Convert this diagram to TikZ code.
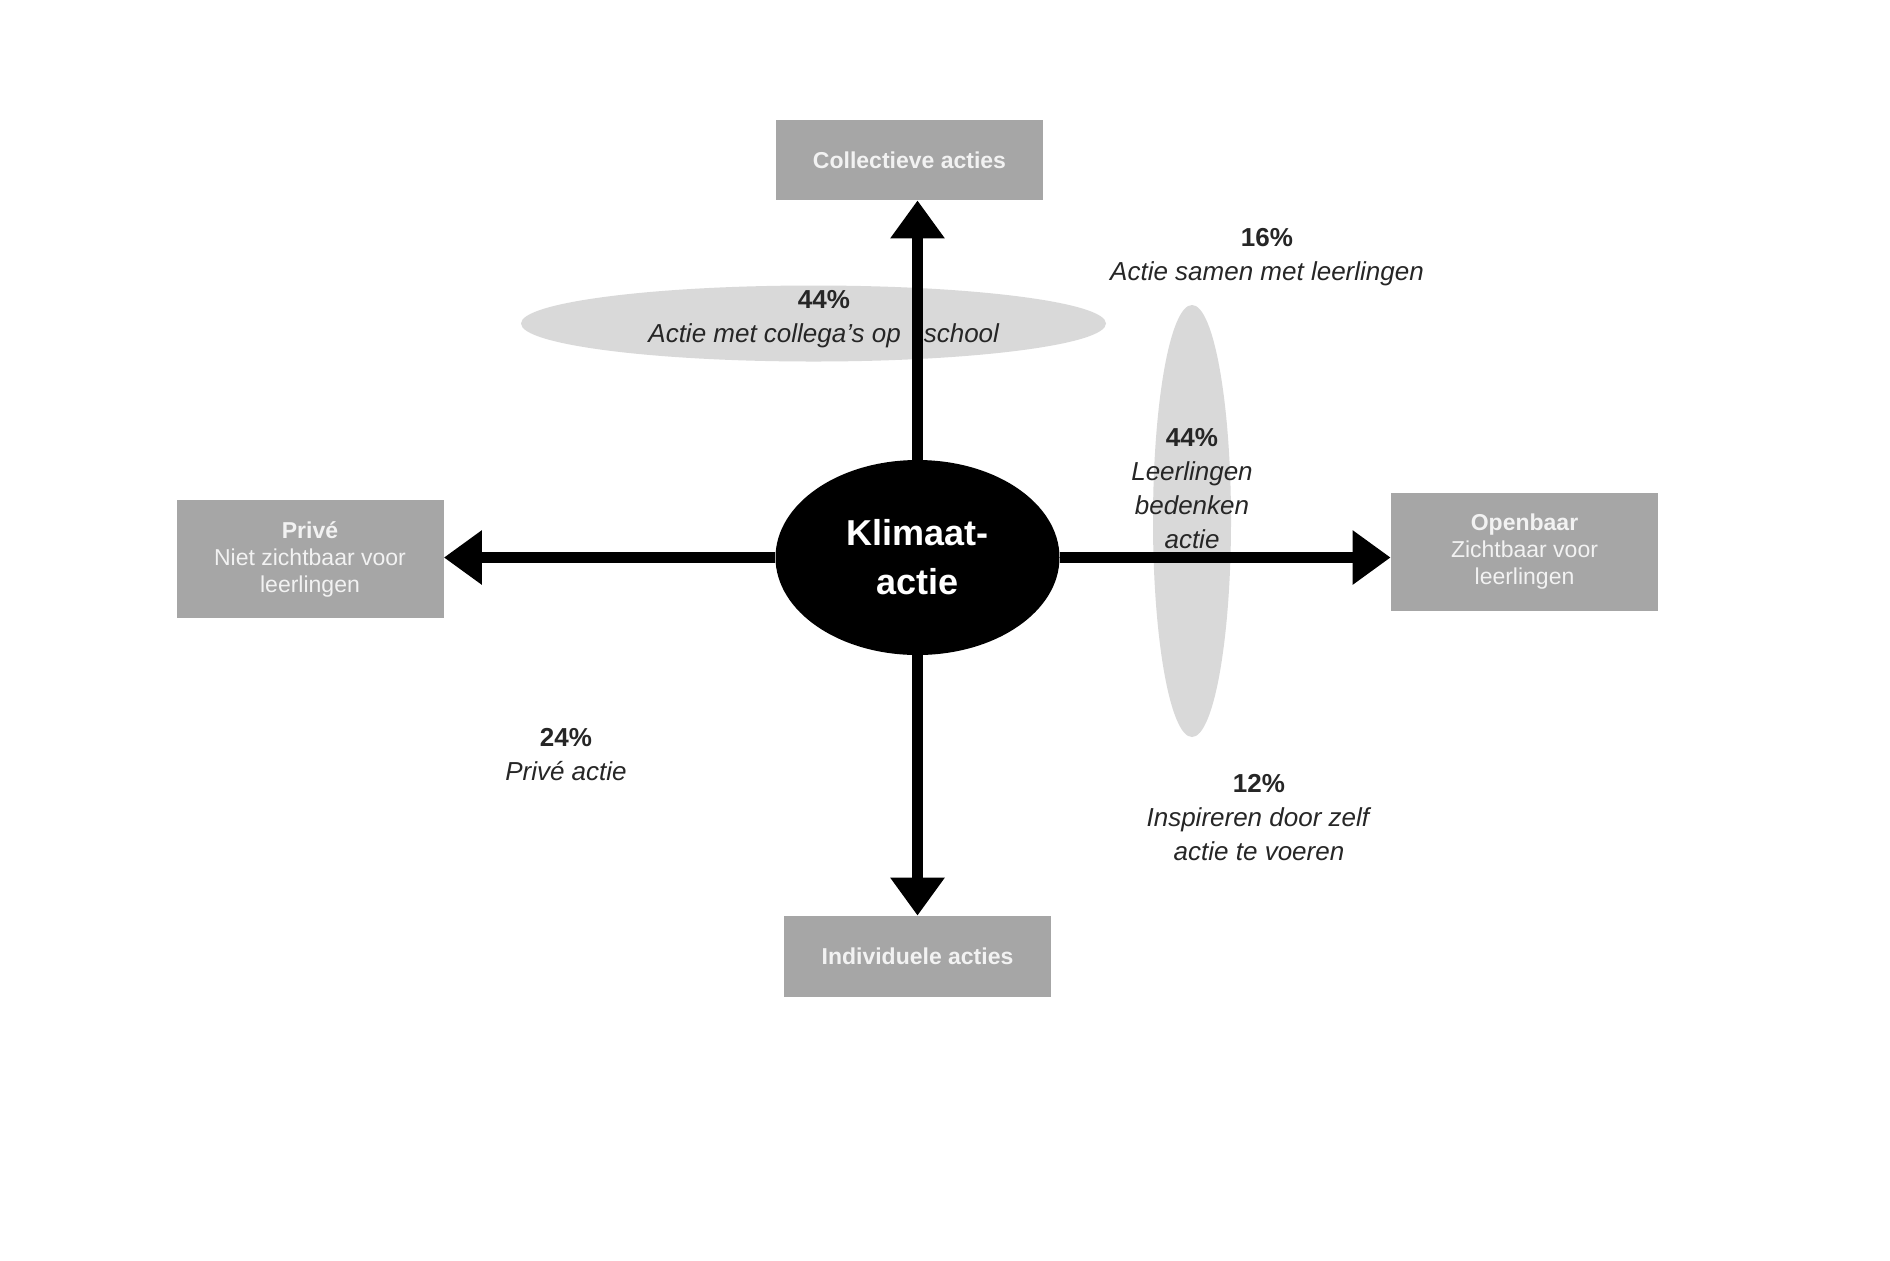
\documentclass[tikz,border=0pt]{standalone}
\usepackage{fontspec}
\setmainfont{Liberation Sans}
\usetikzlibrary{shapes.geometric,arrows.meta}
\definecolor{boxgrey}{HTML}{A6A6A6}
\definecolor{lightgrey}{HTML}{D9D9D9}
\definecolor{boxtext}{HTML}{F2F2F2}
\definecolor{labeltext}{HTML}{262626}
\begin{document}
\begin{tikzpicture}[x=0.5pt,y=-0.5pt,
  greybox/.style={rectangle,fill=boxgrey,draw=none,inner sep=0pt,minimum width=133.5pt,text=boxtext,font=\fontsize{11.5}{13.5}\selectfont,align=center},
  cloud/.style={ellipse,fill=lightgrey,draw=none,inner sep=0pt},
  lbl/.style={align=center,font=\fontsize{13}{17}\selectfont,text=labeltext},
  bigarrow/.style={line width=5.75pt,-{Triangle[length=19pt,width=26pt]}}
]
\fill[white] (0,0) rectangle (1890,1260);
\useasboundingbox (0,0) rectangle (1890,1260);

% light background ellipses
\node[cloud, minimum width=292.5pt, minimum height=38pt] (cloudH) at (813.5,323.5) {};
\node[cloud, minimum width=39pt, minimum height=216pt] (cloudV) at (1192,521) {};

% grey boxes
\node[greybox, minimum height=40pt] (collective) at (909.5,160) {\textbf{Collectieve acties}};
\node[greybox, minimum height=59pt] (prive) at (310,559) {\textbf{Privé}\\Niet zichtbaar voor\\leerlingen};
\node[greybox, minimum height=59pt] (openbaar) at (1524.5,552) {\textbf{Openbaar}\\Zichtbaar voor\\leerlingen};
\node[greybox, minimum height=40.5pt] (individueel) at (917.5,956.5) {\textbf{Individuele acties}};

% labels
\node[lbl] (l16) at (1267,257) {\textbf{16\%}\\\textit{Actie samen met leerlingen}};
\node[lbl] (l44a) at (824,319) {\textbf{44\%}\\\textit{Actie met collega's op\hspace{11.5pt}school}};
\node[lbl] (l44b) at (1192,489) {\textbf{44\%}\\\textit{Leerlingen}\\\textit{bedenken}\\\textit{actie}};
\node[lbl] (l24) at (566,754.5) {\textbf{24\%}\\\textit{Privé actie}};
\node[lbl] (l12) at (1259,818) {\textbf{12\%}\\\textit{Inspireren door zelf}\\\textit{actie te voeren}};

% centre
\node[ellipse, fill=black, draw=none, inner sep=0pt, minimum width=142pt, minimum height=97.5pt,
      text=white, font=\bfseries\fontsize{18}{24.5}\selectfont, align=center] (klimaat) at (917.5,557.5) {Klimaat-\\actie};

% arrows
\draw[bigarrow] (klimaat.north) -- (klimaat.north |- collective.south);
\draw[bigarrow] (klimaat.south) -- (klimaat.south |- individueel.north);
\draw[bigarrow] (klimaat.west) -- (klimaat.west -| prive.east);
\draw[bigarrow] (klimaat.east) -- (klimaat.east -| openbaar.west);
\end{tikzpicture}
\end{document}
